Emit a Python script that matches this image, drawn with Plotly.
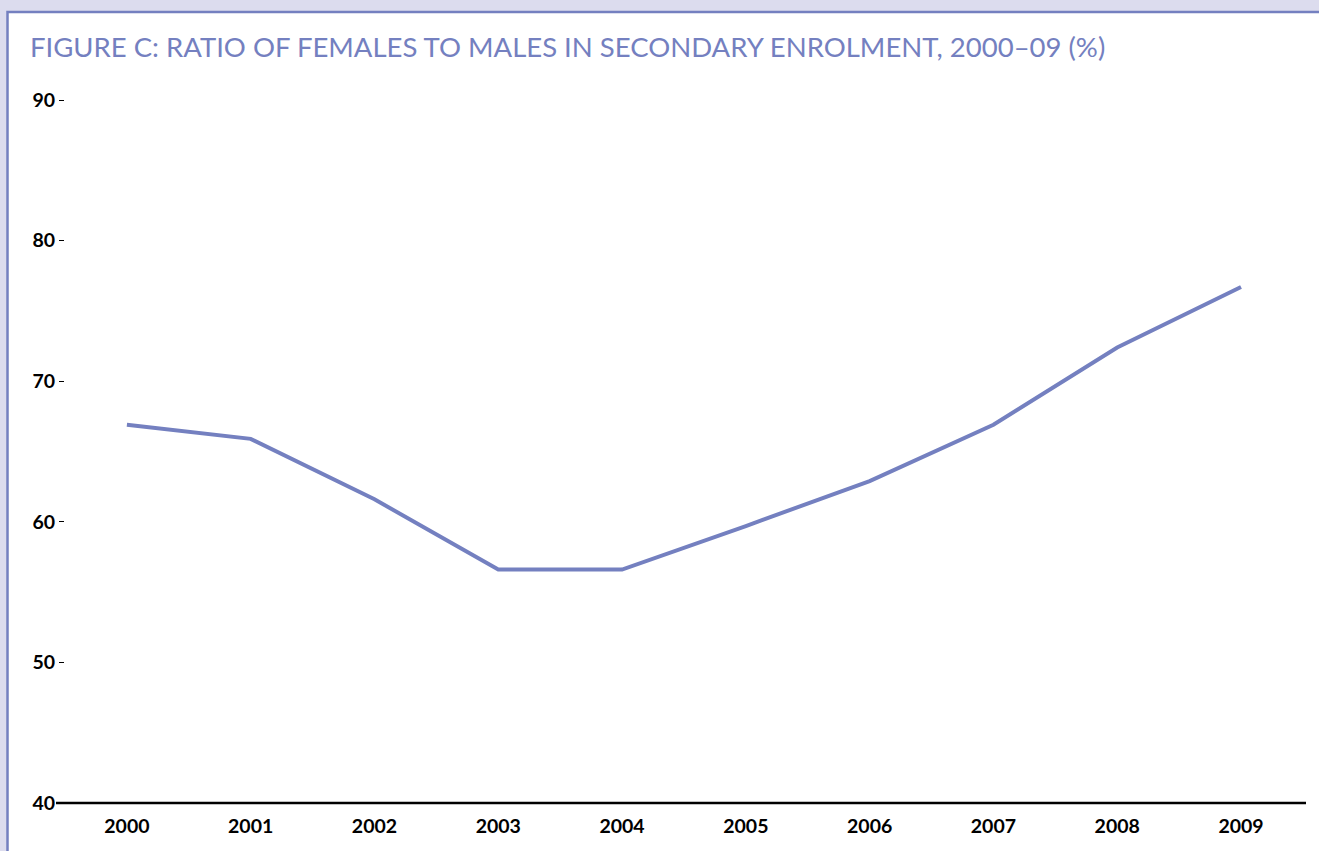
import plotly.graph_objects as go

years = [2000, 2001, 2002, 2003, 2004, 2005, 2006, 2007, 2008, 2009]
ratio = [66.9, 65.9, 61.6, 56.6, 56.6, 59.7, 62.9, 66.9, 72.4, 76.7]
y_ticks = [40, 50, 60, 70, 80, 90]
title_text = "FIGURE C: RATIO OF FEMALES TO MALES IN SECONDARY ENROLMENT, 2000–09 (%)"

W, H = 1319, 851
L, R, T, B = 65, 13, 100, 48
pw, ph = W - L - R, H - T - B

def px_x(p):
    return (p - L) / pw

def px_y(p):
    return (H - B - p) / ph

ACCENT = "#7480c0"

fig = go.Figure()
fig.add_trace(go.Scatter(x=years, y=ratio, mode="lines",
                         line=dict(color=ACCENT, width=4), hoverinfo="x+y"))

fig.update_layout(
    width=W, height=H,
    margin=dict(l=L, r=R, t=T, b=B),
    paper_bgcolor="#dcdcee",
    plot_bgcolor="rgba(0,0,0,0)",
    showlegend=False,
    xaxis=dict(range=[1999.5, 2009.525], tickmode="array", tickvals=years,
               ticktext=[str(y) for y in years], showgrid=False, zeroline=False,
               showline=False, ticks="", ticklabelstandoff=9,
               tickfont=dict(family="Lato", size=19.5, color="black", weight="bold")),
    yaxis=dict(range=[40, 90], tickmode="array", tickvals=y_ticks,
               showgrid=False, zeroline=False, showline=False,
               ticks="outside", ticklen=5, tickwidth=1, tickcolor="black",
               tickfont=dict(family="Lato", size=19.5, color="black", weight="bold")),
    shapes=[
        dict(type="rect", xref="paper", yref="paper", layer="below",
             x0=px_x(7.5), x1=px_x(1340), y0=px_y(870), y1=px_y(12),
             fillcolor="white", line=dict(color=ACCENT, width=2.5)),
        dict(type="line", xref="paper", yref="paper",
             x0=px_x(56), x1=1, y0=0, y1=0,
             line=dict(color="black", width=2.5)),
    ],
    annotations=[
        dict(text=title_text, xref="paper", yref="paper",
             x=px_x(28), y=px_y(47), xanchor="left", yanchor="middle",
             showarrow=False,
             font=dict(family="Lato", size=27.5, color=ACCENT)),
    ],
)

fig.write_html("out.html", config={"displayModeBar": False},
               post_script="document.body.style.margin='0';")
